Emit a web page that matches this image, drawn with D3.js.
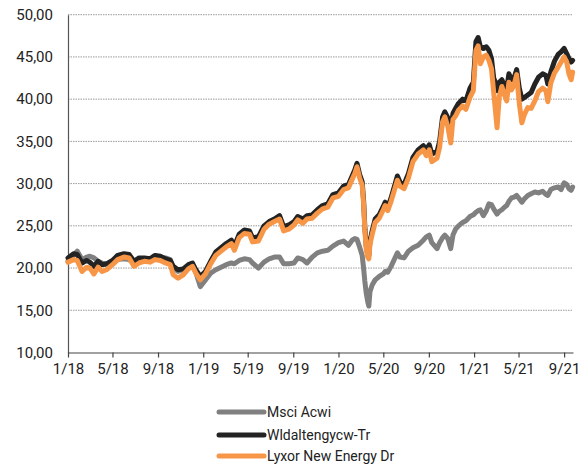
<!DOCTYPE html>
<html>
<head>
<meta charset="utf-8">
<script src="https://cdn.jsdelivr.net/npm/d3@7"></script>
<style>
  html, body { margin: 0; padding: 0; background: #fff; }
  svg { display: block; font-family: Roboto, "Liberation Sans", sans-serif; }
</style>
</head>
<body>
<svg id="chart" width="580" height="466"></svg>
<script>
const dates = [
"2018-01-01","2018-01-16","2018-01-26","2018-02-08","2018-02-20","2018-03-01","2018-03-12","2018-03-23",
"2018-04-03","2018-04-15","2018-05-01","2018-05-15","2018-06-01","2018-06-15","2018-06-28","2018-07-12",
"2018-07-26","2018-08-10","2018-08-24","2018-09-07","2018-09-21","2018-10-04","2018-10-12","2018-10-25",
"2018-11-08","2018-11-22","2018-12-03","2018-12-12","2018-12-24","2019-01-07","2019-01-21","2019-02-04",
"2019-02-18","2019-03-04","2019-03-18","2019-03-26","2019-04-08","2019-04-22","2019-05-06","2019-05-14",
"2019-05-30","2019-06-14","2019-06-28","2019-07-12","2019-07-26","2019-08-06","2019-08-20","2019-09-03",
"2019-09-13","2019-09-27","2019-10-08","2019-10-22","2019-11-05","2019-11-19","2019-12-03","2019-12-17",
"2020-01-01","2020-01-15","2020-01-28","2020-02-07","2020-02-14","2020-02-20","2020-02-27","2020-03-05",
"2020-03-09","2020-03-12","2020-03-16","2020-03-20","2020-03-23","2020-03-26","2020-04-01","2020-04-09",
"2020-04-20","2020-05-01","2020-05-06","2020-05-13","2020-05-22","2020-06-08","2020-06-15","2020-06-26",
"2020-07-08","2020-07-20","2020-08-03","2020-08-17","2020-08-25","2020-09-02","2020-09-09","2020-09-23",
"2020-09-30","2020-10-08","2020-10-14","2020-10-22","2020-10-30","2020-11-05","2020-11-12","2020-11-20",
"2020-12-01","2020-12-10","2020-12-21","2020-12-30","2021-01-06","2021-01-12","2021-01-18","2021-01-26",
"2021-02-03","2021-02-10","2021-02-17","2021-02-23","2021-03-01","2021-03-04","2021-03-10","2021-03-17",
"2021-03-24","2021-03-30","2021-04-05","2021-04-12","2021-04-19","2021-04-26","2021-05-03","2021-05-10",
"2021-05-17","2021-05-26","2021-06-04","2021-06-14","2021-06-24","2021-07-05","2021-07-14","2021-07-19",
"2021-07-27","2021-08-06","2021-08-16","2021-08-24","2021-09-01","2021-09-08","2021-09-14","2021-09-20",
"2021-09-24"
];

const msciAcwi = [
20.8,21.5,22.0,21.0,21.3,21.4,21.2,20.8,
20.6,20.4,20.5,21.0,21.1,21.0,20.6,20.9,
21.1,21.0,21.2,21.1,21.2,21.0,20.0,19.6,
19.8,20.2,20.3,19.5,17.8,18.6,19.4,19.8,
20.1,20.4,20.6,20.5,20.9,21.1,21.0,20.6,
20.0,20.7,21.1,21.3,21.3,20.5,20.5,20.6,
21.2,21.0,20.6,21.3,21.8,22.0,22.1,22.6,
23.0,23.2,22.7,23.3,23.5,23.4,22.5,21.5,
19.9,18.5,17.0,16.0,15.5,17.2,18.0,18.6,
19.0,19.3,19.6,19.5,20.2,21.8,21.3,21.2,
22.0,22.4,22.7,23.3,23.7,23.9,23.0,22.3,
23.0,23.6,23.9,23.5,22.3,23.9,24.6,25.0,
25.4,25.6,26.1,26.3,26.6,26.8,26.9,26.2,
26.8,27.6,27.5,27.0,26.6,26.4,26.7,26.9,
27.2,27.4,27.9,28.3,28.4,28.6,28.2,27.8,
28.2,28.6,28.8,29.0,28.9,29.1,28.7,28.6,
29.3,29.5,29.6,29.3,30.1,29.9,29.4,29.2,
29.6
];

const wldaltengycw = [
21.2,21.7,21.6,20.6,20.9,20.7,20.2,20.8,
20.4,20.5,20.9,21.5,21.7,21.6,20.8,21.2,
21.2,21.1,21.5,21.4,21.1,20.9,20.2,19.8,
19.9,20.4,20.6,19.8,19.0,19.6,20.8,21.9,
22.4,22.9,23.3,22.6,24.0,24.5,24.4,23.6,
23.7,25.0,25.5,25.8,26.2,24.9,25.1,25.5,
26.1,25.8,26.2,26.3,26.9,27.4,27.6,28.7,
28.9,29.7,29.9,30.9,31.6,32.4,31.1,30.2,
27.9,25.0,22.6,21.7,21.5,23.2,24.4,25.8,
26.3,27.3,27.8,27.2,28.3,30.9,30.2,29.9,
31.2,33.1,34.0,34.5,34.0,34.6,33.5,33.8,
35.0,37.9,38.5,37.8,36.2,38.3,38.9,39.5,
40.0,39.8,41.3,42.0,46.8,47.3,46.2,46.0,
46.2,45.8,44.8,42.5,41.8,41.0,42.0,42.3,
41.5,41.2,43.0,42.3,42.5,43.5,41.3,40.0,
40.2,40.5,40.8,41.8,42.6,43.0,42.8,41.8,
43.2,44.5,45.3,45.6,46.0,45.4,44.8,44.4,
44.6
];

const lyxorNewEnergy = [
20.7,21.0,20.9,19.6,20.1,20.0,19.3,20.1,
19.6,19.8,20.4,21.0,21.3,21.2,20.2,20.6,
20.8,20.7,21.0,20.9,20.6,20.4,19.2,18.8,
19.2,19.9,20.2,19.4,18.6,19.3,20.5,21.5,
22.0,22.5,22.9,22.1,23.6,24.1,24.0,23.1,
23.2,24.6,25.2,25.5,25.8,24.4,24.6,25.1,
25.7,25.3,25.8,25.9,26.5,27.0,27.2,28.3,
28.5,29.3,29.5,30.5,31.2,32.0,30.7,29.8,
27.5,24.6,22.2,21.3,21.1,22.8,24.0,25.4,
25.9,26.9,27.4,26.8,27.9,30.4,29.7,29.4,
30.7,32.6,33.5,34.0,33.3,34.0,32.6,33.0,
34.3,37.3,37.9,36.8,34.8,37.6,38.0,38.7,
39.2,38.8,40.2,41.0,45.8,46.3,44.2,45.0,
45.2,44.6,43.6,40.8,38.0,36.6,40.3,41.5,
40.5,39.8,42.0,41.1,41.7,42.9,39.5,37.2,
38.2,39.0,38.9,39.8,40.9,41.3,41.0,39.7,
41.9,43.1,43.8,44.4,45.0,44.4,43.0,42.3,
43.2
];

const yTicks = [10, 15, 20, 25, 30, 35, 40, 45, 50];
const xTickDates = ["2018-01-01","2018-05-01","2018-09-01","2019-01-01","2019-05-01","2019-09-01",
  "2020-01-01","2020-05-01","2020-09-01","2021-01-01","2021-05-01","2021-09-01"];
const seriesNames = ["Msci Acwi", "Wldaltengycw-Tr", "Lyxor New Energy Dr"];
const seriesColors = ["#808080", "#232323", "#F79646"];

const parse = d3.timeParse("%Y-%m-%d");
const dateVals = dates.map(parse);
const seriesValues = [msciAcwi, wldaltengycw, lyxorNewEnergy];

const svg = d3.select("#chart");
const plotLeft = 68, plotRight = 573, plotTop = 14.7, plotBottom = 352.5;

const x = d3.scaleTime()
  .domain([parse("2018-01-01"), parse("2021-09-25")])
  .range([plotLeft, plotRight]);
const y = d3.scaleLinear().domain([10, 50]).range([plotBottom, plotTop]);

const fmt = v => d3.format(".2f")(v).replace(".", ",");

// gridlines
svg.append("g").selectAll("line").data(yTicks.filter(t => t > 10)).join("line")
  .attr("x1", plotLeft).attr("x2", plotRight)
  .attr("y1", d => y(d)).attr("y2", d => y(d))
  .attr("stroke", "#9a9a9a").attr("stroke-width", 1)
  .attr("stroke-dasharray", "1.5,1");

// y axis
const yAxis = svg.append("g").attr("transform", `translate(${plotLeft},0)`)
  .call(d3.axisLeft(y).tickValues(yTicks).tickFormat(fmt).tickSize(0).tickPadding(15));
yAxis.select(".domain").attr("stroke", "#555").attr("stroke-width", 1.2);
yAxis.selectAll("text").attr("font-size", 15).attr("fill", "#222")
  .attr("font-family", "Roboto, sans-serif");

// x axis
const xAxis = svg.append("g").attr("transform", `translate(0,${plotBottom})`)
  .call(d3.axisBottom(x).tickValues(xTickDates.map(parse))
    .tickFormat(d => (d.getMonth() + 1) + "/" + d3.timeFormat("%y")(d))
    .tickSizeInner(5).tickSizeOuter(0).tickPadding(6));
xAxis.select(".domain").attr("stroke", "#444").attr("stroke-width", 1.2);
xAxis.selectAll(".tick line").attr("stroke", "#444").attr("stroke-width", 1.2);
xAxis.selectAll("text").attr("font-size", 15).attr("fill", "#222")
  .attr("font-family", "Roboto, sans-serif");

// lines
const line = d3.line()
  .x((d, i) => x(dateVals[i]))
  .y(d => y(d))
  .curve(d3.curveLinear);

svg.append("g").selectAll("path").data(seriesValues).join("path")
  .attr("d", d => line(d))
  .attr("fill", "none")
  .attr("stroke", (d, i) => seriesColors[i])
  .attr("stroke-width", 5)
  .attr("stroke-linejoin", "round")
  .attr("stroke-linecap", "round");

// legend
const legend = svg.append("g");
const legY = [412, 435, 456];
seriesNames.forEach((name, i) => {
  legend.append("line")
    .attr("x1", 219).attr("x2", 264)
    .attr("y1", legY[i]).attr("y2", legY[i])
    .attr("stroke", seriesColors[i]).attr("stroke-width", 5)
    .attr("stroke-linecap", "round");
  legend.append("text")
    .attr("x", 267).attr("y", legY[i])
    .attr("dy", "0.35em")
    .attr("font-size", 14).attr("fill", "#222")
    .text(name);
});
</script>
</body>
</html>
